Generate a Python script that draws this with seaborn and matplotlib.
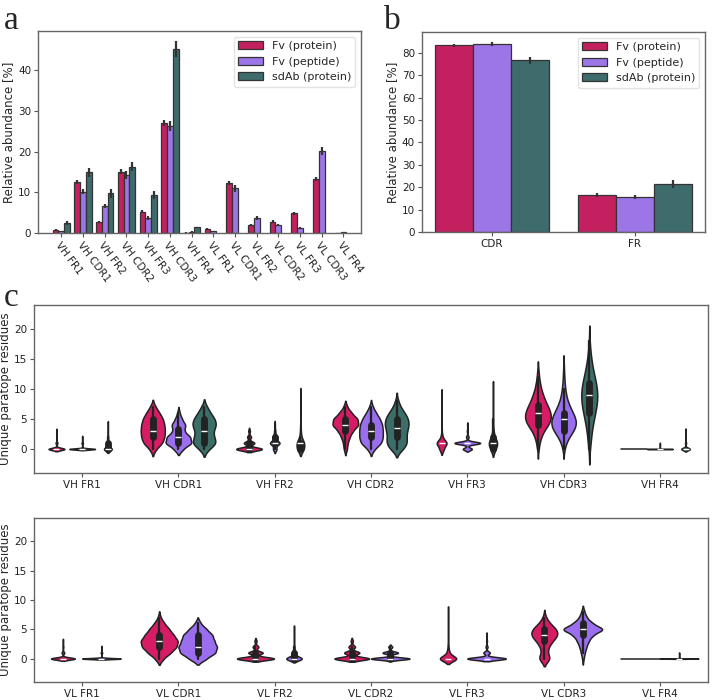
import numpy as np
import pandas as pd
import matplotlib
matplotlib.use('Agg')
import matplotlib.pyplot as plt
import seaborn as sns

# ---- panel a: relative abundance per region (%) ----
regions_a = ['VH FR1', 'VH CDR1', 'VH FR2', 'VH CDR2', 'VH FR3', 'VH CDR3', 'VH FR4',
             'VL FR1', 'VL CDR1', 'VL FR2', 'VL CDR2', 'VL FR3', 'VL CDR3', 'VL FR4']
fv_protein_a = [0.8, 12.6, 2.8, 15.1, 5.3, 27.0, 0.1, 1.0, 12.4, 2.0, 2.8, 4.9, 13.3, 0.05]
fv_protein_a_err = [0.2, 0.5, 0.2, 0.6, 0.4, 0.7, 0.05, 0.2, 0.5, 0.3, 0.3, 0.4, 0.6, 0.05]
fv_peptide_a = [0.4, 10.2, 6.7, 14.3, 3.7, 26.3, 0.3, 0.4, 11.0, 3.6, 2.0, 1.2, 20.2, 0.15]
fv_peptide_a_err = [0.2, 0.7, 0.5, 0.9, 0.5, 1.3, 0.1, 0.2, 0.8, 0.5, 0.3, 0.3, 1.0, 0.1]
sdab_a = [2.4, 14.9, 9.8, 16.3, 9.4, 45.3, 1.4]          # VH only
sdab_a_err = [0.5, 1.1, 1.1, 1.1, 0.9, 2.0, 0.2]

# ---- panel b: CDR vs FR ----
groups_b = ['CDR', 'FR']
fv_protein_b = [83.3, 16.6]
fv_protein_b_err = [0.8, 0.8]
fv_peptide_b = [84.0, 15.6]
fv_peptide_b_err = [1.0, 1.0]
sdab_b = [76.6, 21.5]
sdab_b_err = [1.5, 1.7]

types = ['Fv (protein)', 'Fv (peptide)', 'sdAb (protein)']
bar_colors = ['#c2205f', '#9c76e6', '#3e6c6c']
violin_colors = ['#d61c64', '#9b6ef0', '#3c6e69']

# ---- panel c: unique paratope residues, counts of structures with 0,1,2,... residues ----
vh_regions = ['VH FR1', 'VH CDR1', 'VH FR2', 'VH CDR2', 'VH FR3', 'VH CDR3', 'VH FR4']
vl_regions = ['VL FR1', 'VL CDR1', 'VL FR2', 'VL CDR2', 'VL FR3', 'VL CDR3', 'VL FR4']

vh_fv_protein = [
    [160, 18, 6, 2],
    [14, 40, 48, 50, 48, 42, 28, 12],
    [185, 75, 28, 12],
    [10, 14, 26, 45, 80, 75, 38, 12],
    [28, 70, 12, 2, 0, 0, 0, 0, 0, 2],
    [3, 6, 12, 22, 40, 52, 50, 40, 28, 20, 12, 8, 4, 3],
    [300],
]
vh_fv_peptide = [
    [280, 16, 4],
    [30, 85, 75, 35, 45, 22, 8],
    [20, 55, 28, 6, 2],
    [15, 45, 50, 50, 48, 38, 22, 8],
    [70, 200, 20, 7, 3],
    [4, 10, 22, 40, 52, 50, 38, 26, 16, 10, 7, 4, 3, 2, 1],
    [298, 2],
]
vh_sdab = [
    [62, 20, 5, 2, 1],
    [20, 50, 38, 35, 48, 42, 25, 12],
    [35, 38, 8, 4, 2, 1, 1, 0, 0, 1],
    [25, 40, 35, 38, 45, 43, 30, 14, 6],
    [25, 45, 15, 5, 2, 1, 1, 0, 0, 1, 1],
    [2, 3, 5, 6, 8, 12, 14, 18, 20, 20, 20, 17, 13, 10, 7, 5, 3, 2, 1],
    [85, 10, 3, 1],
]
vl_fv_protein = [
    [160, 18, 6, 2],
    [15, 40, 60, 65, 50, 35, 18, 5],
    [180, 70, 28, 10],
    [160, 70, 30, 10],
    [100, 15, 5, 2, 1, 1, 0, 1, 1],
    [25, 10, 15, 30, 50, 45, 20, 6],
    [300],
]
vl_fv_peptide = [
    [285, 12, 3],
    [30, 60, 65, 55, 50, 30, 10],
    [85, 25, 6, 2, 1, 1],
    [200, 80, 20],
    [240, 40, 12, 5, 3],
    [4, 10, 18, 30, 50, 110, 50, 20, 8],
    [298, 2],
]


def bars_frame(regions, series):
    rows = []
    for label, values, errs in series:
        for reg, v, e in zip(regions, values, errs):
            rows.append({'Region': reg, 'Type': label, 'Value': v, 'Err': e})
    return pd.DataFrame(rows)


def counts_frame(regions, series):
    parts = []
    for label, counts_list in series:
        for reg, counts in zip(regions, counts_list):
            vals = np.repeat(np.arange(len(counts)), counts)
            parts.append(pd.DataFrame({'Region': reg, 'Type': label, 'Residues': vals}))
    return pd.concat(parts, ignore_index=True)


def draw_bars(ax, df, order):
    sns.barplot(data=df, x='Region', y='Value', hue='Type', order=order, hue_order=types,
                palette=bar_colors, saturation=1, errorbar=None, edgecolor='#333333',
                linewidth=0.9, ax=ax)
    # precomputed errors on top of the bars seaborn placed
    for label, cont in zip(types, ax.containers):
        sub = df[df['Type'] == label].set_index('Region').reindex(order).dropna()
        xs = [b.get_x() + b.get_width() / 2 for b in cont]
        hs = [b.get_height() for b in cont]
        ax.errorbar(xs, hs, yerr=sub['Err'].values, fmt='none', ecolor='#333333',
                    elinewidth=1.6, capsize=0)
    leg = ax.legend(loc='upper right', fontsize=8, frameon=True, handlelength=2.2)
    leg.get_frame().set_edgecolor('#dddddd')


sns.set_style('white')
plt.rcParams['font.family'] = ['DejaVu Sans']

fig = plt.figure(figsize=(7.12, 7.0), dpi=100)
ax_a = fig.add_axes([0.0534, 0.667, 0.4537, 0.2886])
ax_b = fig.add_axes([0.5927, 0.6686, 0.3975, 0.2857])
ax_c1 = fig.add_axes([0.0478, 0.3243, 0.9466, 0.24])
ax_c2 = fig.add_axes([0.0478, 0.0257, 0.9466, 0.2343])

# a
df_a = bars_frame(regions_a, [(types[0], fv_protein_a, fv_protein_a_err),
                              (types[1], fv_peptide_a, fv_peptide_a_err),
                              (types[2], sdab_a, sdab_a_err)])
draw_bars(ax_a, df_a, regions_a)
ax_a.set_xlabel('')
ax_a.set_ylabel('Relative abundance [%]', fontsize=8.5, labelpad=2)
ax_a.set_xticks(range(len(regions_a)))
ax_a.set_xticklabels(regions_a, rotation=-53, ha='left', rotation_mode='anchor', fontsize=7.5)
ax_a.set_yticks([0, 10, 20, 30, 40])

# b
df_b = bars_frame(groups_b, [(types[0], fv_protein_b, fv_protein_b_err),
                             (types[1], fv_peptide_b, fv_peptide_b_err),
                             (types[2], sdab_b, sdab_b_err)])
draw_bars(ax_b, df_b, groups_b)
ax_b.set_xlabel('')
ax_b.set_ylabel('Relative abundance [%]', fontsize=8.5, labelpad=2)
ax_b.set_yticks(range(0, 90, 10))

# c
df_vh = counts_frame(vh_regions, [(types[0], vh_fv_protein), (types[1], vh_fv_peptide),
                                  (types[2], vh_sdab)])
df_vl = counts_frame(vl_regions, [(types[0], vl_fv_protein), (types[1], vl_fv_peptide)])

for ax, df, order, htypes, cols in [(ax_c1, df_vh, vh_regions, types, violin_colors),
                                    (ax_c2, df_vl, vl_regions, types[:2], violin_colors[:2])]:
    sns.violinplot(data=df, x='Region', y='Residues', hue='Type', order=order,
                   hue_order=htypes, palette=cols, saturation=1, density_norm='count',
                   common_norm=True, linewidth=1.1, linecolor='#222222', inner='box',
                   legend=False, ax=ax)
    ax.set_ylim(-4, 24)
    ax.set_yticks([0, 5, 10, 15, 20])
    ax.set_xlabel('')
    ax.set_ylabel('Unique paratope residues', fontsize=8.5, labelpad=1)

for ax in [ax_a, ax_b, ax_c1, ax_c2]:
    ax.tick_params(axis='both', labelsize=7.5, length=3, pad=2, left=True, bottom=True,
                   color='#555555', labelcolor='#222222')
    for s in ax.spines.values():
        s.set_color('#666666')
        s.set_linewidth(1.0)

for txt, x, y in [('a', 0.005, 0.992), ('b', 0.54, 0.992), ('c', 0.005, 0.597)]:
    fig.text(x, y, txt, fontsize=24, family='Liberation Serif', va='top', ha='left')

fig.savefig('out.png', dpi=100)
